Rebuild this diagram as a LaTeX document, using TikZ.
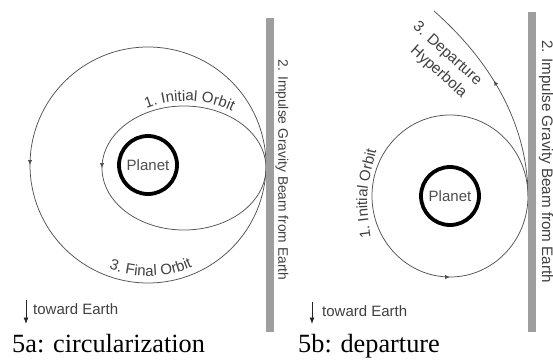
\documentclass[tikz,border=0pt]{standalone}
\usepackage{fontspec}
\setmainfont{Liberation Serif}
\setsansfont{Liberation Sans}
\usetikzlibrary{arrows.meta,decorations.markings,decorations.text}
\begin{document}
\begin{tikzpicture}[x=1pt,y=1pt,
  orbit/.style={draw=black!68, line width=0.75pt},
  planetc/.style={circle, draw=black, line width=3.8pt, minimum size=58pt, inner sep=0pt,
     font=\sffamily\fontsize{15}{15}\selectfont, text=black!70},
  beam/.style={fill=black!38, draw=none},
  lbl/.style={font=\sffamily\fontsize{15}{16}\selectfont, text=black!75, inner sep=0pt},
  captxt/.style={font=\fontsize{26.3}{28}\selectfont, inner sep=0pt, anchor=base west},
  tip/.style={-{Latex[length=6.5pt,width=5pt]}, draw=black!85, line width=0.8pt},
  midtip/.style={postaction={decorate}, decoration={markings,
     mark=at position #1 with {\arrow{Latex[length=5pt,width=4.5pt]}}}},
  curvlbl/.style={decorate, decoration={text along path, text align=center,
     text color=black!75, text={|\sffamily\fontsize{15}{15}\selectfont|#1}}},
]
\useasboundingbox (0,0) rectangle (553,360);

% ---------- 5a ----------
\node[planetc] (pa) at (148,195) {Planet};
\draw[orbit, midtip=0.5] (266,195) arc[start angle=0, end angle=360, radius=118];
\draw[orbit, midtip=0.5] (266,192) arc[start angle=0, end angle=360, x radius=82, y radius=62];
\path[curvlbl={1. Initial Orbit}] (186,192) ++(121:87 and 67) arc[start angle=121, end angle=54, x radius=87, y radius=67];
\path[curvlbl={3. Final Orbit}] (148,195) ++(247:111) arc[start angle=247, end angle=296, radius=111];
\fill[beam] (266,28) rectangle (274,342);
\node[lbl, rotate=-90, font=\sffamily\fontsize{13.8}{14}\selectfont] (ba) at (282,190) {2. Impulse Gravity Beam from Earth};
\coordinate (ea1) at (26,60);
\coordinate (ea2) at (26,36);
\draw[tip] (ea1) -- (ea2);
\node[lbl, anchor=west] (ta) at (33,51) {toward Earth};
\node[captxt] (ca) at (12,8) {5a: circularization};

% ---------- 5b ----------
\node[planetc] (pb) at (450,164) {Planet};
\draw[orbit, midtip=0.75] (528,164) arc[start angle=0, end angle=360, x radius=78, y radius=81];
\coordinate (tang) at (528,164);
\coordinate (hend) at (434,349);
\draw[orbit, midtip=0.57] (tang) .. controls (528,210) and (512,280) .. (hend);
\path[curvlbl={1. Initial Orbit}] (371,120) .. controls (365,165) .. (377,212);
\node[lbl, rotate=-42, font=\sffamily\fontsize{15.3}{16}\selectfont] (d1) at (447,306) {3. Departure};
\node[lbl, rotate=-42, font=\sffamily\fontsize{15.3}{16}\selectfont] (d2) at (438.5,288) {Hyperbola};
\fill[beam] (528,28) rectangle (536,348);
\node[lbl, rotate=-90, font=\sffamily\fontsize{15.2}{15}\selectfont] (bb) at (546,198.5) {2. Impulse Gravity Beam from Earth};
\coordinate (eb1) at (312,58);
\coordinate (eb2) at (312,36);
\draw[tip] (eb1) -- (eb2);
\node[lbl, anchor=west] (tb) at (322,49) {toward Earth};
\node[captxt] (cb) at (298,8) {5b: departure};
\end{tikzpicture}
\end{document}
